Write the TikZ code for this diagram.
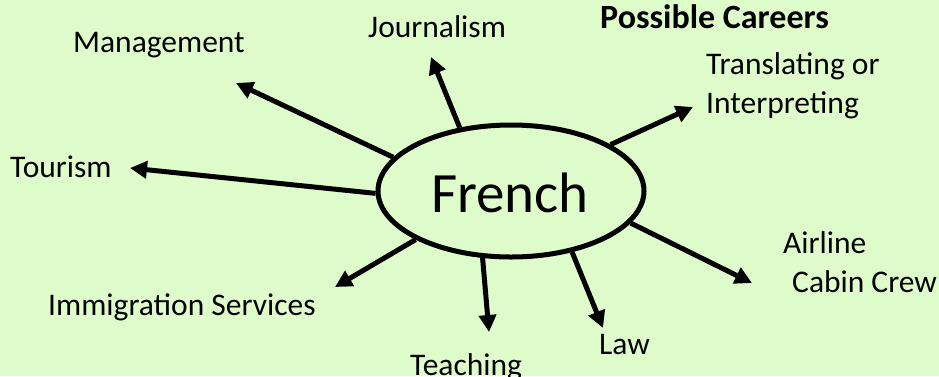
\documentclass[tikz,border=0pt]{standalone}
\usepackage{fontspec}
\setmainfont{Carlito}
\usetikzlibrary{shapes.geometric,arrows.meta}
\definecolor{bg}{RGB}{222,253,203}
\tikzset{
  lbl/.style={anchor=base west, inner sep=0pt, font=\fontsize{31.5}{39}\selectfont, align=left},
  arr/.style={line width=5pt, -{Triangle[length=17pt,width=17pt]}},
}
\begin{document}
\begin{tikzpicture}[x=1pt,y=-1pt]
\fill[bg] (0,0) rectangle (939,376);
\useasboundingbox (0,0) rectangle (939,376);
\begin{scope}
\clip (0,0) rectangle (939,376);
\node[ellipse, draw, line width=5pt, minimum width=266pt, minimum height=132pt, inner sep=0pt] (fr) at (511,191) {};
\node[anchor=base, inner sep=0pt, font=\fontsize{57}{60}\selectfont] (frtext) at (510,212) {French};

\node[anchor=base west, inner sep=0pt, font=\fontsize{34}{40}\selectfont\bfseries] (title) at (600,28) {Possible Careers};
\node[lbl] (journ) at (368,37) {Journalism};
\node[lbl] (mgmt) at (73,52) {Management};
\node[lbl] (tour) at (10,177) {Tourism};
\node[lbl] (immi) at (48,315) {Immigration Services};
\node[lbl] (teach) at (410,375) {Teaching};
\node[lbl] (law) at (599,354) {Law};
\node[lbl] (air) at (783,292) {Airline\\\hspace*{9pt}Cabin Crew};
\node[lbl] (trans) at (706,113) {Translating or\\Interpreting};

\coordinate (tJ) at (431,57);
\coordinate (tM) at (236,83);
\coordinate (tT) at (130,168);
\coordinate (tI) at (335,287);
\coordinate (tTe) at (489,332);
\coordinate (tL) at (603,328);
\coordinate (tA) at (752,283);
\coordinate (tTr) at (693,107);

\draw[arr] (fr.129) -- (tJ);
\draw[arr] (fr.164) -- (tM);
\draw[arr] (fr.181) -- (tT);
\draw[arr] (fr.207) -- (tI);
\draw[arr] (fr.247) -- (tTe);
\draw[arr] (fr.315) -- (tL);
\draw[arr] (fr.345) -- (tA);
\draw[arr] (fr.25) -- (tTr);
\end{scope}
\end{tikzpicture}
\end{document}
